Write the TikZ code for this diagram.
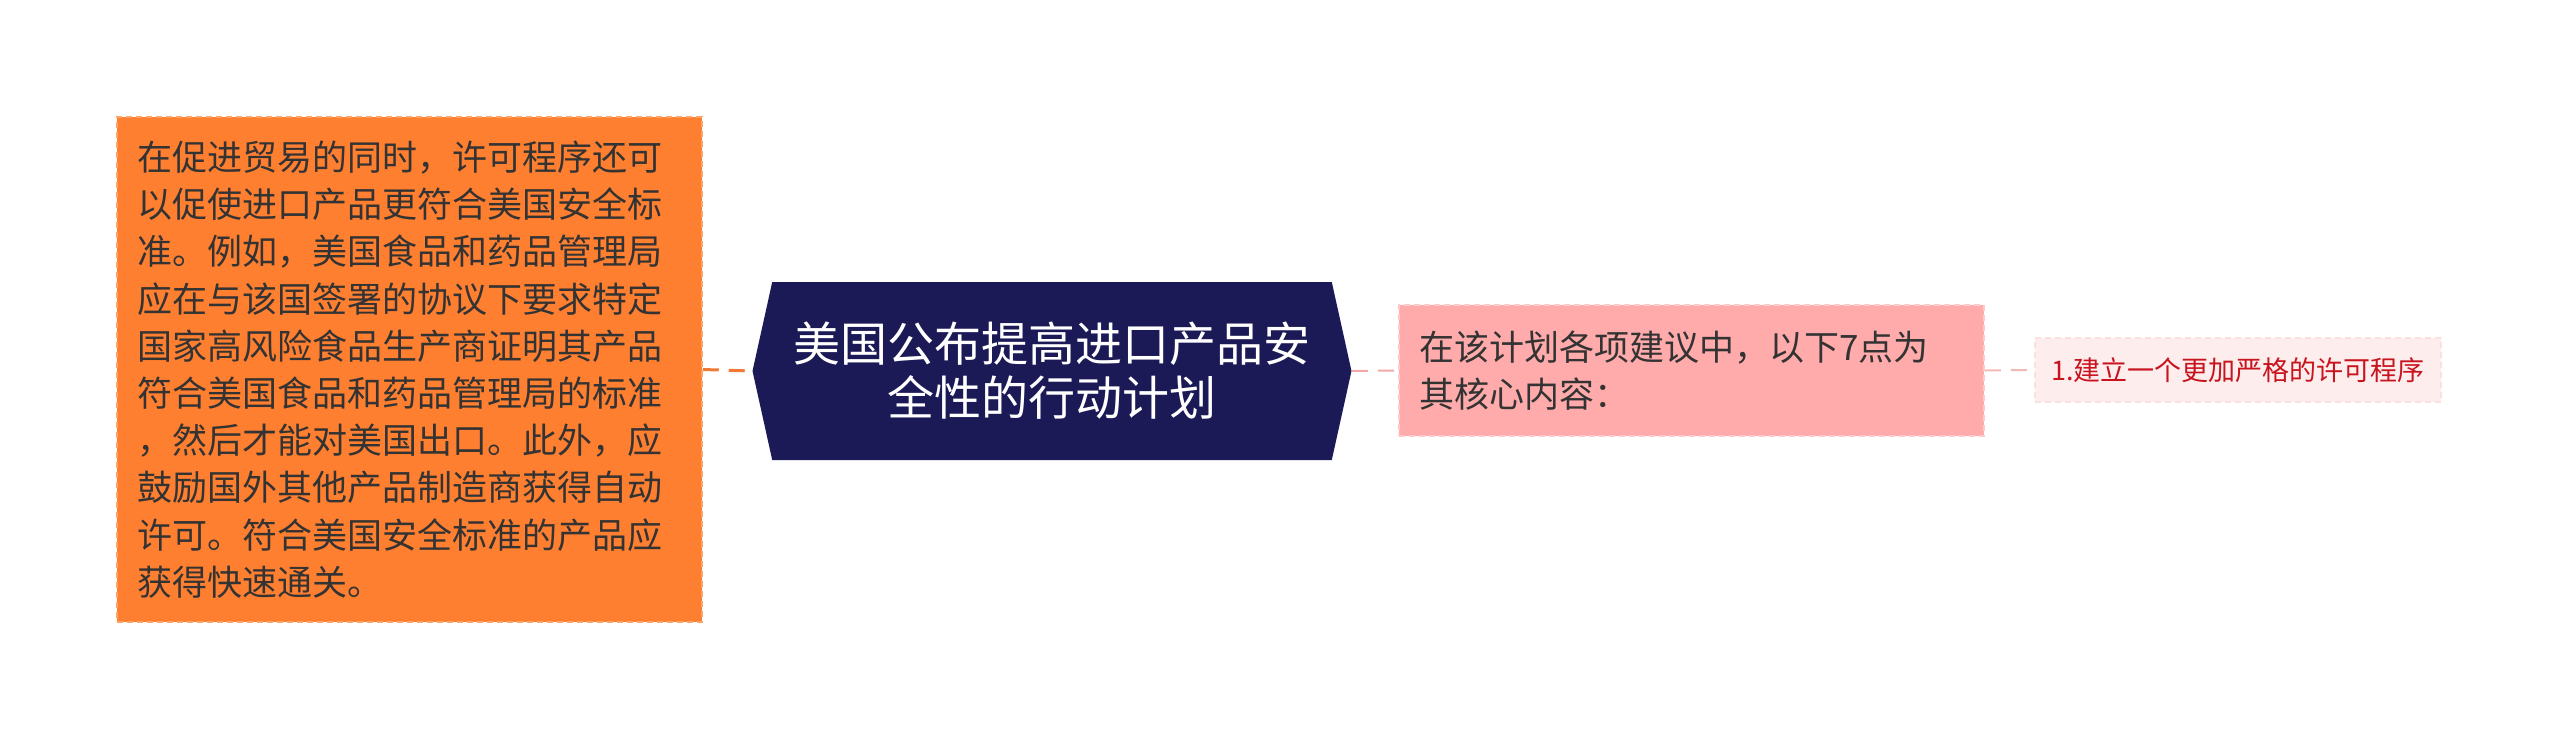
\documentclass[tikz,border=0pt]{standalone}
\usepackage{fontspec}
\setmainfont{Noto Sans CJK SC}
\usetikzlibrary{shapes.symbols}

\definecolor{orangefill}{HTML}{FF7F31}
\definecolor{orangeedge}{HTML}{FFA469}
\definecolor{orangeline}{HTML}{F07A35}
\definecolor{navyfill}{HTML}{1B1A57}
\definecolor{pinkfill}{HTML}{FFABAB}
\definecolor{pinkedge}{HTML}{FFCACA}
\definecolor{pinkline}{HTML}{F4A7A7}
\definecolor{palefill}{HTML}{FDEDED}
\definecolor{paleedge}{HTML}{FBE0E0}
\definecolor{paleline}{HTML}{F2B8B8}
\definecolor{redtext}{HTML}{C8141E}
\definecolor{graytext}{HTML}{333333}

\begin{document}
\begin{tikzpicture}[x=0.5pt,y=-0.5pt,
rootblock/.style={signal,signal to=east and west,signal pointer angle=155,fill=navyfill,text=white,
  minimum width=299.5pt,minimum height=89pt,inner sep=0pt,align=center,
  font=\fontsize{23.5pt}{27pt}\selectfont},
detailblock/.style={draw=orangeedge,fill=orangefill,dash pattern=on 3pt off 2pt,line width=0.75pt,
  text=graytext,text width=272.5pt,inner xsep=10pt,minimum height=252.5pt,align=left,
  font=\fontsize{17.5pt}{23.6pt}\selectfont},
keyblock/.style={draw=pinkedge,fill=pinkfill,dash pattern=on 3pt off 2pt,line width=0.75pt,
  text=graytext,text width=272.5pt,inner xsep=10pt,minimum height=65.5pt,align=left,
  font=\fontsize{17.5pt}{23.5pt}\selectfont},
pointblock/.style={draw=paleedge,fill=palefill,dash pattern=on 3pt off 2pt,line width=0.75pt,
  text=redtext,minimum width=203pt,minimum height=32pt,inner sep=0pt,
  font=\fontsize{13.5pt}{16pt}\selectfont},
link/.style={dash pattern=on 8pt off 5pt,line width=1.5pt}]

\useasboundingbox (0,0) rectangle (2560,741);

\draw (1052,371) node[rootblock] (C) {美国公布提高进口产品安\\全性的行动计划};
\draw (409.5,369.5) node[detailblock] (L1) {在促进贸易的同时，许可程序还可\\以促使进口产品更符合美国安全标\\准。例如，美国食品和药品管理局\\应在与该国签署的协议下要求特定\\国家高风险食品生产商证明其产品\\符合美国食品和药品管理局的标准\\，然后才能对美国出口。此外，应\\鼓励国外其他产品制造商获得自动\\许可。符合美国安全标准的产品应\\获得快速通关。};
\draw (1691.5,370.5) node[keyblock] (R1) {在该计划各项建议中，以下7点为\\其核心内容：};
\draw (2238,370) node[pointblock] (R2) {1.建立一个更加严格的许可程序};

\draw[link,orangeline] (L1.east) -- (C.west);
\draw[link,pinkline,line width=1pt] (C.east) -- (R1.west);
\draw[link,paleline,line width=1pt] (R1.east) -- (R2.west);

\end{tikzpicture}
\end{document}
